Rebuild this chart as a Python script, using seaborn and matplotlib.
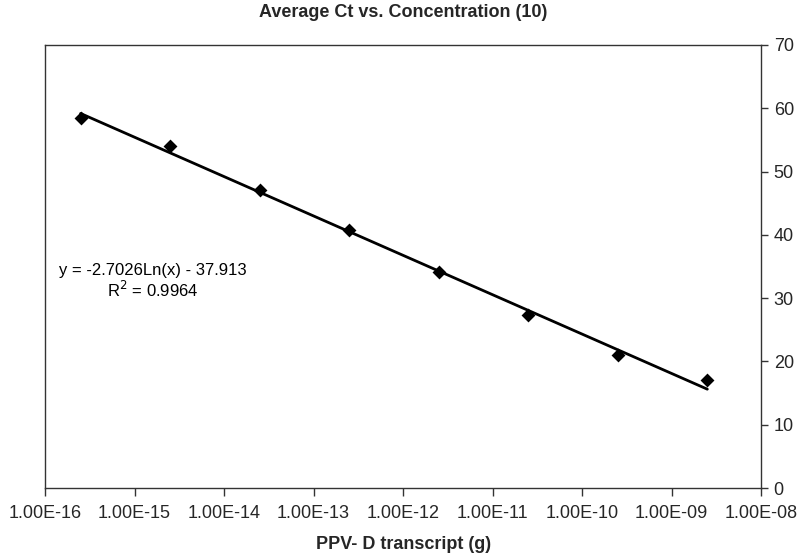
import matplotlib
matplotlib.use("Agg")
import matplotlib.pyplot as plt
import matplotlib.ticker as mticker
import numpy as np
import pandas as pd
import seaborn as sns

# Data
concentration_g = [2.5e-16, 2.5e-15, 2.5e-14, 2.5e-13, 2.5e-12, 2.5e-11, 2.5e-10, 2.5e-9]
average_ct = [58.4, 54.1, 47.1, 40.8, 34.1, 27.3, 21.0, 17.0]

# Logarithmic trendline coefficients (as printed on the chart)
trend_slope = -2.7026
trend_intercept = -37.913
r_squared = 0.9964

x_ticks = [1e-16, 1e-15, 1e-14, 1e-13, 1e-12, 1e-11, 1e-10, 1e-9, 1e-8]
x_tick_labels = ["1.00E-16", "1.00E-15", "1.00E-14", "1.00E-13", "1.00E-12",
                 "1.00E-11", "1.00E-10", "1.00E-09", "1.00E-08"]
y_ticks = [0, 10, 20, 30, 40, 50, 60, 70]

title = "Average Ct vs. Concentration (10)"
x_label = "PPV- D transcript (g)"

sns.set_theme(style="white")
plt.rcParams["font.family"] = ["Liberation Sans", "DejaVu Sans"]

df = pd.DataFrame({"conc": concentration_g, "ct": average_ct})
x_fit = np.logspace(np.log10(min(concentration_g)), np.log10(max(concentration_g)), 200)
df_fit = pd.DataFrame({"conc": x_fit, "ct": trend_slope * np.log(x_fit) + trend_intercept})

fig = plt.figure(figsize=(8.03, 5.58), dpi=100)
ax = fig.add_axes([0.056, 0.1254, 0.892, 0.794])

ax.set_xscale("log")
sns.lineplot(data=df_fit, x="conc", y="ct", ax=ax, color="black", linewidth=2.0)
sns.scatterplot(data=df, x="conc", y="ct", ax=ax, marker="D", s=50, color="black",
                edgecolor="black", linewidth=0, zorder=3)

ax.set_xlim(1e-16, 1e-8)
ax.set_ylim(0, 70)
ax.set_xticks(x_ticks)
ax.set_xticklabels(x_tick_labels)
ax.xaxis.set_minor_locator(mticker.NullLocator())
ax.set_yticks(y_ticks)
ax.yaxis.tick_right()
ax.yaxis.set_label_position("right")

ax.tick_params(axis="x", direction="out", length=6, width=1, color="#333333",
               labelsize=13, pad=6, bottom=True)
ax.tick_params(axis="y", direction="out", length=5, width=1, color="#333333",
               labelsize=13, pad=4, right=True, left=False)
for sp in ax.spines.values():
    sp.set_visible(True)
    sp.set_color("#333333")
    sp.set_linewidth(1.0)

ax.set_xlabel(x_label, fontsize=13, fontweight="bold", labelpad=10)
ax.set_ylabel("")
ax.set_title(title, fontsize=13, fontweight="bold", pad=20)

ax.text(0.15, 0.467, f"y = {trend_slope}Ln(x) - {abs(trend_intercept)}\nR$^2$ = {r_squared}",
        transform=ax.transAxes, ha="center", va="center", fontsize=12,
        linespacing=1.1, color="black")

fig.savefig("out.png", dpi=100)
